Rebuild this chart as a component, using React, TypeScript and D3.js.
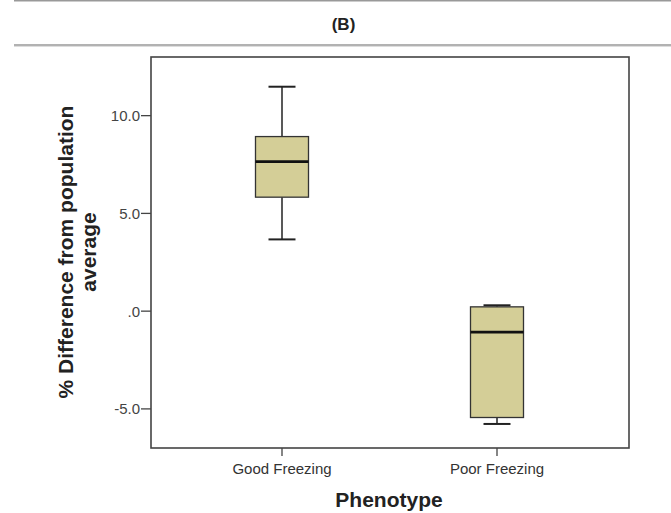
import React from "react";
import * as d3 from "d3";

const categories = ["Good Freezing", "Poor Freezing"];
const whiskerLow = [3.67, -5.77];
const q1 = [5.83, -5.44];
const medians = [7.65, -1.07];
const q3 = [8.93, 0.22];
const whiskerHigh = [11.48, 0.3];
const yTicks = [-5, 0, 5, 10];
const yTickLabels = ["-5.0", ".0", "5.0", "10.0"];

const W = 671;
const H = 513;
const plot = { left: 151, right: 629, top: 57, bottom: 448 };

export default function App() {
  const y = d3.scaleLinear().domain([-7, 13]).range([plot.bottom, plot.top]);
  const x = d3
    .scalePoint<string>()
    .domain(categories)
    .range([282, 497]);
  const boxW = 53;
  const capW = 27;
  const frameColor = "#444";
  const font = "Arial, 'Liberation Sans', sans-serif";

  return (
    <svg width={W} height={H} style={{ position: "absolute", left: 0, top: 0, background: "#fff" }}>
      <line x1={14} x2={671} y1={0.75} y2={0.75} stroke="#999" strokeWidth={1.5} />
      <line x1={14} x2={671} y1={45} y2={45} stroke="#999" strokeWidth={1.5} />
      <line x1={14} x2={671} y1={46.5} y2={46.5} stroke="#ddd" strokeWidth={1} />
      <text x={343.5} y={30} textAnchor="middle" fontFamily={font} fontWeight="bold" fontSize={17} fill="#222">
        (B)
      </text>

      {categories.map((c, i) => {
        const cx = x(c)!;
        return (
          <g key={c}>
            <line x1={cx} x2={cx} y1={y(whiskerHigh[i])} y2={y(q3[i])} stroke="#222" strokeWidth={1.5} />
            <line x1={cx} x2={cx} y1={y(q1[i])} y2={y(whiskerLow[i])} stroke="#222" strokeWidth={1.5} />
            <line x1={cx - capW / 2} x2={cx + capW / 2} y1={y(whiskerHigh[i])} y2={y(whiskerHigh[i])} stroke="#222" strokeWidth={2} />
            <line x1={cx - capW / 2} x2={cx + capW / 2} y1={y(whiskerLow[i])} y2={y(whiskerLow[i])} stroke="#222" strokeWidth={2} />
            <rect
              x={cx - boxW / 2}
              y={y(q3[i])}
              width={boxW}
              height={y(q1[i]) - y(q3[i])}
              fill="#d4ce97"
              stroke="#333"
              strokeWidth={1.3}
            />
            <line x1={cx - boxW / 2} x2={cx + boxW / 2} y1={y(medians[i])} y2={y(medians[i])} stroke="#111" strokeWidth={2.8} />
          </g>
        );
      })}

      <rect
        x={plot.left}
        y={plot.top}
        width={plot.right - plot.left}
        height={plot.bottom - plot.top}
        fill="none"
        stroke={frameColor}
        strokeWidth={1.6}
      />

      {yTicks.map((t, i) => (
        <g key={t}>
          <line x1={plot.left - 10} x2={plot.left} y1={y(t)} y2={y(t)} stroke={frameColor} strokeWidth={1.3} />
          <text x={plot.left - 11} y={y(t)} dy="0.36em" textAnchor="end" fontFamily={font} fontSize={15} fill="#444">
            {yTickLabels[i]}
          </text>
        </g>
      ))}

      {categories.map((c) => (
        <g key={c}>
          <line x1={x(c)!} x2={x(c)!} y1={plot.bottom} y2={plot.bottom + 8} stroke={frameColor} strokeWidth={1.3} />
          <text x={x(c)!} y={474} textAnchor="middle" fontFamily={font} fontSize={15} fill="#333">
            {c}
          </text>
        </g>
      ))}

      <text x={389} y={507} textAnchor="middle" fontFamily={font} fontWeight="bold" fontSize={21} fill="#222">
        Phenotype
      </text>
      <g transform={`translate(0, 252) rotate(-90)`}>
        <text x={0} y={73} textAnchor="middle" fontFamily={font} fontWeight="bold" fontSize={21} fill="#222">
          % Difference from population
        </text>
        <text x={0} y={96} textAnchor="middle" fontFamily={font} fontWeight="bold" fontSize={21} fill="#222">
          average
        </text>
      </g>
    </svg>
  );
}
